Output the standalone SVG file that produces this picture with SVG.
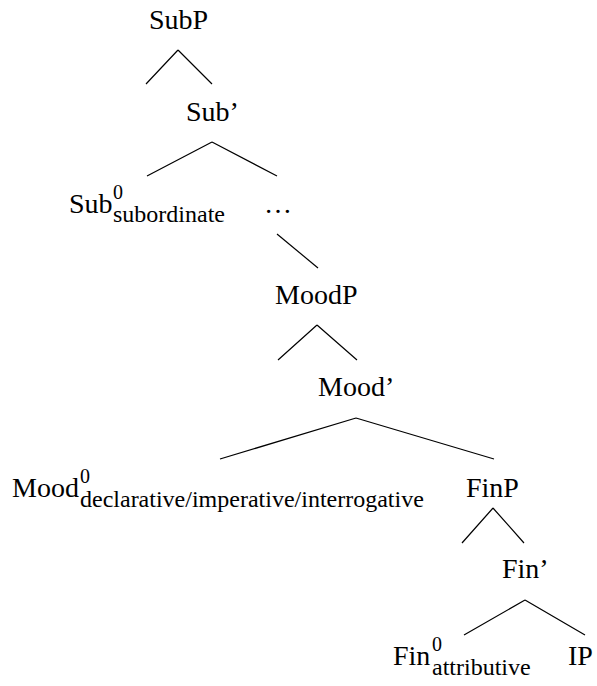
<svg xmlns="http://www.w3.org/2000/svg" width="597" height="686" viewBox="0 0 597 686">
<style>
.e{stroke:#000;stroke-width:1.2;fill:none}
</style>
<rect width="597" height="686" fill="#fff"/>
<g id="connectors">
<path class="e" d="M178,50 L146,84 M178,50 L212,84"/>
<path class="e" d="M212,142 L147,176 M212,142 L277,176"/>
<path class="e" d="M277,234 L318,268"/>
<path class="e" d="M317,325 L278,360 M317,325 L357,360"/>
<path class="e" d="M356,418 L220,459 M356,418 L494,459"/>
<path class="e" d="M493,508 L462,543 M493,508 L524,543"/>
<path class="e" d="M525,600 L464,635 M525,600 L585,635"/>
</g>
<g id="SubP"><text x="149" y="29" font-family="Liberation Serif" font-size="28">SubP</text></g>
<g id="SubBar"><text x="186" y="121" font-family="Liberation Serif" font-size="28">Sub’</text></g>
<g id="Sub0"><text x="69" y="213" font-family="Liberation Serif" font-size="28">Sub</text><text x="113" y="199" font-family="Liberation Serif" font-size="20">0</text><text x="113" y="222" font-family="Liberation Serif" font-size="24">subordinate</text></g>
<g id="dots"><text x="264" y="213" font-family="Liberation Serif" font-size="28">…</text></g>
<g id="MoodP"><text x="275" y="304" font-family="Liberation Serif" font-size="28">MoodP</text></g>
<g id="MoodBar"><text x="318" y="396" font-family="Liberation Serif" font-size="28">Mood’</text></g>
<g id="Mood0"><text x="12" y="497" font-family="Liberation Serif" font-size="28">Mood</text><text x="80" y="483" font-family="Liberation Serif" font-size="20">0</text><text x="80" y="507" font-family="Liberation Serif" font-size="24">declarative/imperative/interrogative</text></g>
<g id="FinP"><text x="466" y="497" font-family="Liberation Serif" font-size="28">FinP</text></g>
<g id="FinBar"><text x="502" y="578" font-family="Liberation Serif" font-size="28">Fin’</text></g>
<g id="Fin0"><text x="393" y="665" font-family="Liberation Serif" font-size="28">Fin</text><text x="432" y="651" font-family="Liberation Serif" font-size="20">0</text><text x="432" y="675" font-family="Liberation Serif" font-size="24">attributive</text></g>
<g id="IP"><text x="568" y="665" font-family="Liberation Serif" font-size="28">IP</text></g>
</svg>
